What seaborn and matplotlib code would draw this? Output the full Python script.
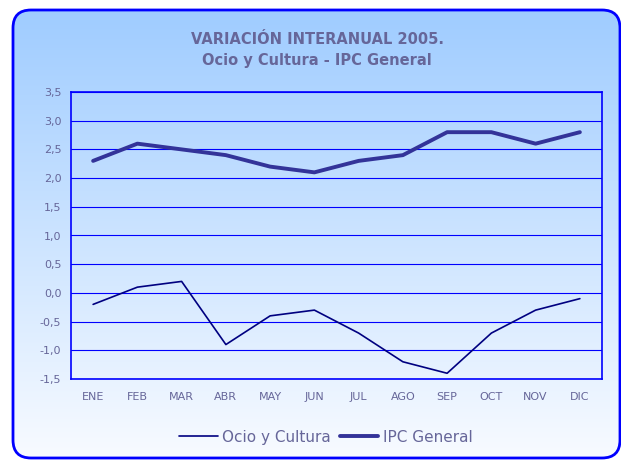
import numpy as np
import matplotlib
matplotlib.use("Agg")
import matplotlib.pyplot as plt
import seaborn as sns
import pandas as pd
from matplotlib.patches import FancyBboxPatch

# data
months = ["ENE", "FEB", "MAR", "ABR", "MAY", "JUN", "JUL", "AGO", "SEP", "OCT", "NOV", "DIC"]
ocio = [-0.2, 0.1, 0.2, -0.9, -0.4, -0.3, -0.7, -1.2, -1.4, -0.7, -0.3, -0.1]
ipc = [2.3, 2.6, 2.5, 2.4, 2.2, 2.1, 2.3, 2.4, 2.8, 2.8, 2.6, 2.8]
y_ticks = [-1.5, -1.0, -0.5, 0.0, 0.5, 1.0, 1.5, 2.0, 2.5, 3.0, 3.5]

df = pd.DataFrame({"mes": range(len(months)), "Ocio y Cultura": ocio, "IPC General": ipc})

sns.set_style("white")
plt.rcParams["font.family"] = ["DejaVu Sans"]

text_col = "#666699"
blue = "#0000FF"

fig = plt.figure(figsize=(6.21, 4.61), dpi=100)
fig.patch.set_facecolor("white")

# gradient background with rounded frame (pixel coords, y up)
bg = fig.add_axes([0, 0, 1, 1], zorder=-10)
bg.set_xlim(0, 621)
bg.set_ylim(0, 461)
bg.axis("off")
grad = np.linspace(0, 1, 256).reshape(-1, 1)
cmap = matplotlib.colors.LinearSegmentedColormap.from_list("g", ["#9FCCFF", "#F8FBFF"])
img = bg.imshow(grad, cmap=cmap, aspect="auto", extent=[13, 620, 3, 451], origin="upper")
frame = FancyBboxPatch((13, 3), 607, 448, boxstyle="round,pad=0,rounding_size=18",
                       facecolor="none", edgecolor=blue, linewidth=2, clip_on=False)
bg.add_patch(frame)
img.set_clip_path(frame)

ax = fig.add_axes([71 / 621, 1 - 379 / 461, (602 - 71) / 621, (379 - 92) / 461])
ax.set_facecolor("none")

sns.lineplot(data=df, x="mes", y="Ocio y Cultura", ax=ax, color="#000080", linewidth=1.2,
             label="Ocio y Cultura")
sns.lineplot(data=df, x="mes", y="IPC General", ax=ax, color="#333399", linewidth=2.8,
             label="IPC General")

ax.set_xlim(-0.5, len(months) - 0.5)
ax.set_ylim(-1.5, 3.5)
ax.set_yticks(y_ticks)
ax.set_yticklabels([f"{v:.1f}".replace(".", ",") for v in y_ticks])
ax.set_xticks(range(len(months)))
ax.set_xticklabels(months)
ax.set_xticks(np.arange(-0.5, len(months), 1.0), minor=True)
ax.tick_params(axis="x", which="major", length=0, pad=9, labelsize=8, labelcolor=text_col)
ax.tick_params(axis="x", which="minor", length=4, width=1, color=blue, direction="out")
ax.tick_params(axis="y", length=4, width=1, color=blue, direction="out", labelsize=8,
               labelcolor=text_col, pad=3)
ax.set_xlabel("")
ax.set_ylabel("")
ax.grid(axis="y", color=blue, linewidth=0.8)
ax.grid(axis="x", visible=False)
for s in ax.spines.values():
    s.set_color(blue)
    s.set_linewidth(1.2)
ax.set_axisbelow(True)

ax.legend_.remove()
handles, labels = ax.get_legend_handles_labels()
fig.legend(handles, labels, loc="center", bbox_to_anchor=(326 / 621, 1 - 437 / 461), ncol=2,
           frameon=False, fontsize=11, labelcolor=text_col, handlelength=2.5,
           handletextpad=0.3, columnspacing=0.6)

fig.text(317 / 621, 1 - 40 / 461, "VARIACIÓN INTERANUAL 2005.", ha="center", va="center",
         fontsize=10.5, fontweight="bold", color=text_col)
fig.text(317 / 621, 1 - 60 / 461, "Ocio y Cultura - IPC General", ha="center", va="center",
         fontsize=10.5, fontweight="bold", color=text_col)

fig.savefig("out.png", dpi=100)
